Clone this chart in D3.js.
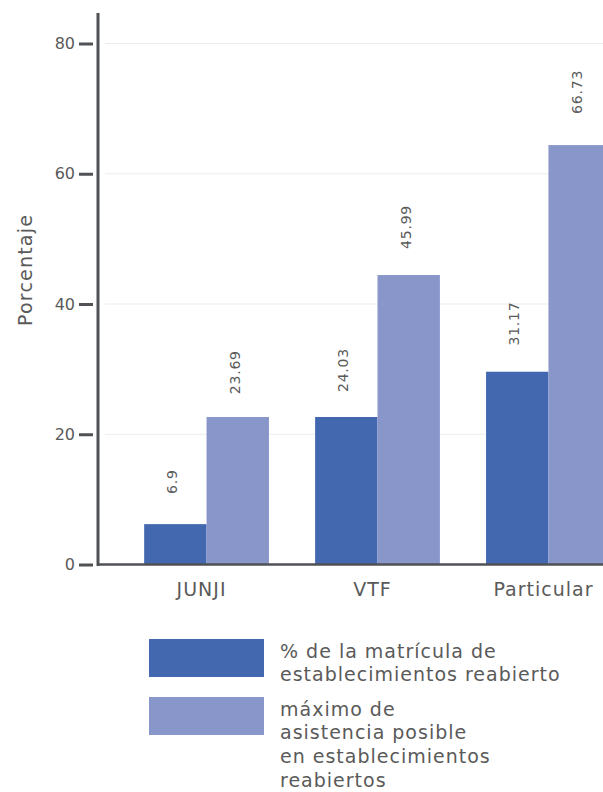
<!DOCTYPE html>
<html>
<head>
<meta charset="utf-8">
<script src="https://cdn.jsdelivr.net/npm/d3@7"></script>
<style>
body { margin: 0; background: #fff; }
svg { display: block; font-family: "DejaVu Sans", sans-serif; }
</style>
</head>
<body>
<div id="chart"></div>
<script>
var categories = ["JUNJI", "VTF", "Particular"];
var seriesNames = ["% de la matrícula de establecimientos reabierto",
                   "máximo de asistencia posible en establecimientos reabiertos"];
// bar heights as drawn in the picture
var matricula = [6.2, 22.65, 29.6];
var asistencia = [22.65, 44.45, 64.4];
// printed value labels
var matriculaLabels = ["6.9", "24.03", "31.17"];
var asistenciaLabels = ["23.69", "45.99", "66.73"];
var yTicks = [0, 20, 40, 60, 80];
var legendLines = [["% de la matrícula de", "establecimientos reabierto"],
                   ["máximo de", "asistencia posible", "en establecimientos", "reabiertos"]];

var colors = ["#4468b0", "#8996c9"];
var W = 603, H = 792;
var axisColor = "#4f5154", textColor = "#5a5a5a";
var font = "DejaVu Sans, sans-serif";

var svg = d3.select("#chart").append("svg")
    .attr("width", W).attr("height", H);

var x = d3.scaleBand().domain(categories).range([98, 657]).padding(0.27);
var xSub = d3.scaleBand().domain([0, 1]).range([0, x.bandwidth()]);
var y = d3.scaleLinear().domain([0, 80]).range([564.5, 43.5]);

// gridlines
svg.append("g").selectAll("line")
    .data(yTicks.filter(function(d) { return d > 0; }))
    .enter().append("line")
    .attr("x1", 105).attr("x2", W)
    .attr("y1", function(d) { return y(d); })
    .attr("y2", function(d) { return y(d); })
    .attr("stroke", "#ececec").attr("stroke-width", 1);

var data = [];
categories.forEach(function(c, i) {
    data.push({cat: c, s: 0, v: matricula[i], label: matriculaLabels[i]});
    data.push({cat: c, s: 1, v: asistencia[i], label: asistenciaLabels[i]});
});

svg.append("g").selectAll("rect")
    .data(data).enter().append("rect")
    .attr("x", function(d) { return x(d.cat) + xSub(d.s); })
    .attr("y", function(d) { return y(d.v); })
    .attr("width", xSub.bandwidth())
    .attr("height", function(d) { return y(0) - y(d.v); })
    .attr("fill", function(d) { return colors[d.s]; });

svg.append("g").selectAll("text")
    .data(data).enter().append("text")
    .attr("transform", function(d) {
        var cx = x(d.cat) + xSub(d.s) + xSub.bandwidth() / 2 - 3;
        var cy = y(+d.label) - 38;
        return "translate(" + cx + "," + cy + ")rotate(-90)";
    })
    .attr("text-anchor", "middle")
    .attr("dy", "0.35em")
    .attr("font-size", 14)
    .attr("letter-spacing", 0.8)
    .attr("fill", textColor)
    .text(function(d) { return d.label; });

// y axis
var yAxis = svg.append("g")
    .attr("transform", "translate(93,0)")
    .call(d3.axisLeft(y).tickValues(yTicks).tickSize(14).tickPadding(4));
yAxis.select(".domain").remove();
yAxis.selectAll(".tick line").attr("stroke", axisColor).attr("stroke-width", 3);
yAxis.selectAll(".tick text").attr("fill", textColor)
    .attr("font-size", 16).attr("font-family", font);

svg.append("line")
    .attr("x1", 98).attr("x2", 98).attr("y1", 13).attr("y2", y(0) + 1.5)
    .attr("stroke", axisColor).attr("stroke-width", 3);

// x axis
svg.append("line")
    .attr("x1", 98).attr("x2", W).attr("y1", y(0)).attr("y2", y(0))
    .attr("stroke", axisColor).attr("stroke-width", 2.5);

var xAxis = svg.append("g")
    .attr("transform", "translate(0," + y(0) + ")")
    .call(d3.axisBottom(x).tickSize(0).tickPadding(18));
xAxis.select(".domain").remove();
xAxis.selectAll(".tick text").attr("fill", textColor)
    .attr("font-size", 19).attr("letter-spacing", 1).attr("font-family", font)
    .attr("dx", -5);

svg.append("text")
    .attr("transform", "translate(32,270)rotate(-90)")
    .attr("text-anchor", "middle")
    .attr("font-size", 19)
    .attr("letter-spacing", 1.2)
    .attr("fill", textColor)
    .text("Porcentaje");

// legend
var legend = svg.append("g");
var rowY = [639, 697];
legendLines.forEach(function(lines, i) {
    legend.append("rect")
        .attr("x", 149).attr("y", rowY[i])
        .attr("width", 115).attr("height", 38)
        .attr("fill", colors[i]);
    var t = legend.append("text")
        .attr("x", 280).attr("y", rowY[i] + 18.5)
        .attr("font-size", 19).attr("letter-spacing", 1).attr("fill", textColor);
    lines.forEach(function(l, j) {
        t.append("tspan").attr("x", 280).attr("dy", j == 0 ? 0 : 23.8).text(l);
    });
});
</script>
</body>
</html>
